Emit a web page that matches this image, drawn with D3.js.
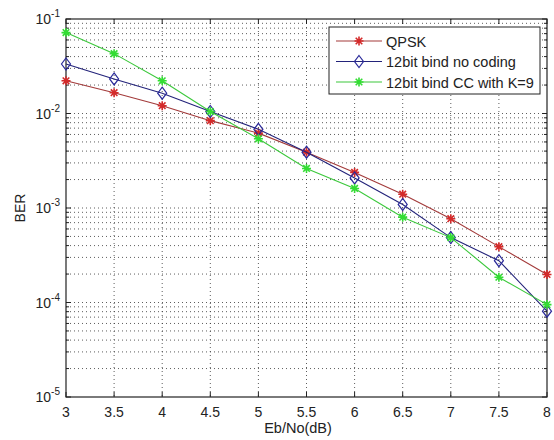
<!DOCTYPE html>
<html>
<head>
<meta charset="utf-8">
<script src="https://cdn.jsdelivr.net/npm/d3@7"></script>
<style>
  body { margin: 0; background: #fff; }
  text { font-family: "Liberation Sans", Arial, sans-serif; fill: #222; }
</style>
</head>
<body>
<script>
// Data
const ebno = [3, 3.5, 4, 4.5, 5, 5.5, 6, 6.5, 7, 7.5, 8];
const qpsk = [0.0222, 0.0166, 0.0121, 0.0084, 0.0062, 0.0039, 0.00238, 0.0014, 0.00077, 0.00039, 0.000198];
const noCoding = [0.0334, 0.0232, 0.0164, 0.0105, 0.0068, 0.0039, 0.00208, 0.00109, 0.000486, 0.000277, 0.000081];
const ccK9 = [0.0718, 0.043, 0.0222, 0.0105, 0.0054, 0.00262, 0.00161, 0.0008, 0.000486, 0.000185, 0.000095];
const seriesNames = ["QPSK", "12bit bind no coding", "12bit bind CC with K=9"];
const xTicks = [3, 3.5, 4, 4.5, 5, 5.5, 6, 6.5, 7, 7.5, 8];
const yExps = [-5, -4, -3, -2, -1];

const W = 554, H = 440;
const margin = { top: 19, right: 7, bottom: 43, left: 66 };
const width = W - margin.left - margin.right;
const height = H - margin.top - margin.bottom;

const x = d3.scaleLinear().domain([3, 8]).range([0, width]);
const y = d3.scaleLog().domain([1e-5, 1e-1]).range([height, 0]);

const svg = d3.select("body").append("svg").attr("width", W).attr("height", H);
const g = svg.append("g").attr("transform", "translate(" + margin.left + "," + margin.top + ")");

// minor and major y values
const yMinor = [];
for (let e = -5; e < -1; e++) for (let k = 2; k <= 9; k++) yMinor.push(k * Math.pow(10, e));
const yMajor = yExps.map((e) => Math.pow(10, e));

// grid
const grid = g.append("g").attr("stroke", "#333").attr("stroke-width", 0.8).attr("stroke-dasharray", "1,3");
grid.selectAll(".gx").data(xTicks.slice(1, -1)).enter().append("line")
  .attr("x1", (d) => x(d)).attr("x2", (d) => x(d)).attr("y1", 0).attr("y2", height);
grid.selectAll(".gy").data(yMinor.concat(yMajor.slice(1, -1))).enter().append("line")
  .attr("x1", 0).attr("x2", width).attr("y1", (d) => y(d)).attr("y2", (d) => y(d));

// ticks inside, on all four sides
const ticks = g.append("g").attr("stroke", "#222").attr("stroke-width", 1);
xTicks.forEach((t) => {
  ticks.append("line").attr("x1", x(t)).attr("x2", x(t)).attr("y1", height).attr("y2", height - 5);
  ticks.append("line").attr("x1", x(t)).attr("x2", x(t)).attr("y1", 0).attr("y2", 5);
});
yMajor.forEach((t) => {
  ticks.append("line").attr("x1", 0).attr("x2", 5).attr("y1", y(t)).attr("y2", y(t));
  ticks.append("line").attr("x1", width).attr("x2", width - 5).attr("y1", y(t)).attr("y2", y(t));
});
yMinor.forEach((t) => {
  ticks.append("line").attr("x1", 0).attr("x2", 3).attr("y1", y(t)).attr("y2", y(t));
  ticks.append("line").attr("x1", width).attr("x2", width - 3).attr("y1", y(t)).attr("y2", y(t));
});

// axis box
g.append("rect").attr("width", width).attr("height", height)
  .attr("fill", "none").attr("stroke", "#222").attr("stroke-width", 1.2);

// x tick labels
g.selectAll(".xl").data(xTicks).enter().append("text")
  .attr("x", (d) => x(d)).attr("y", height + 20)
  .attr("text-anchor", "middle").attr("font-size", 14).text((d) => d);

// y tick labels 10^e
yExps.forEach((e) => {
  const t = g.append("text").attr("x", -6).attr("y", y(Math.pow(10, e)) + 5)
    .attr("text-anchor", "end").attr("font-size", 14);
  t.append("tspan").text("10");
  t.append("tspan").attr("font-size", 10).attr("dy", -7).text(e);
});

// axis titles
svg.append("text").attr("x", 298).attr("y", 433).attr("text-anchor", "middle")
  .attr("font-size", 14.5).text("Eb/No(dB)");
svg.append("text").attr("transform", "translate(25," + (margin.top + height / 2) + ") rotate(-90)")
  .attr("text-anchor", "middle").attr("font-size", 14).text("BER");

const line = d3.line().x((d) => x(d[0])).y((d) => y(d[1]));

function star(sel, c) {
  const s = 4.5, d = 3.3;
  sel.append("path")
    .attr("d", `M${-s},0H${s}M0,${-s}V${s}M${-d},${-d}L${d},${d}M${-d},${d}L${d},${-d}`)
    .attr("stroke", c).attr("stroke-width", 1.6).attr("fill", "none");
}
function diamond(sel, c) {
  sel.append("path").attr("d", "M0,-6L4.5,0L0,6L-4.5,0Z")
    .attr("stroke", c).attr("stroke-width", 1.2).attr("fill", "none");
}

const series = [
  { vals: qpsk, line: "#a33a3a", mark: "#d42a2a", marker: star },
  { vals: noCoding, line: "#23237a", mark: "#2a2a9a", marker: diamond },
  { vals: ccK9, line: "#3cc83c", mark: "#33dd33", marker: star }
];

series.forEach((s) => {
  const pts = ebno.map((v, i) => [v, s.vals[i]]);
  g.append("path").datum(pts).attr("d", line)
    .attr("fill", "none").attr("stroke", s.line).attr("stroke-width", 1.1);
  g.selectAll(null).data(pts).enter().append("g")
    .attr("transform", (d) => "translate(" + x(d[0]) + "," + y(d[1]) + ")")
    .each(function () { s.marker(d3.select(this), s.mark); });
});

// legend
const lg = svg.append("g").attr("transform", "translate(329,27)");
lg.append("rect").attr("width", 211).attr("height", 67)
  .attr("fill", "#fff").attr("stroke", "#222").attr("stroke-width", 1);
series.forEach((s, i) => {
  const yy = 14 + i * 20.5;
  lg.append("line").attr("x1", 7).attr("x2", 53).attr("y1", yy).attr("y2", yy)
    .attr("stroke", s.line).attr("stroke-width", 1.1);
  const m = lg.append("g").attr("transform", "translate(30," + yy + ")");
  s.marker(m, s.mark);
  lg.append("text").attr("x", 57).attr("y", yy + 5.5).attr("font-size", 14.5).text(seriesNames[i]);
});
</script>
</body>
</html>
